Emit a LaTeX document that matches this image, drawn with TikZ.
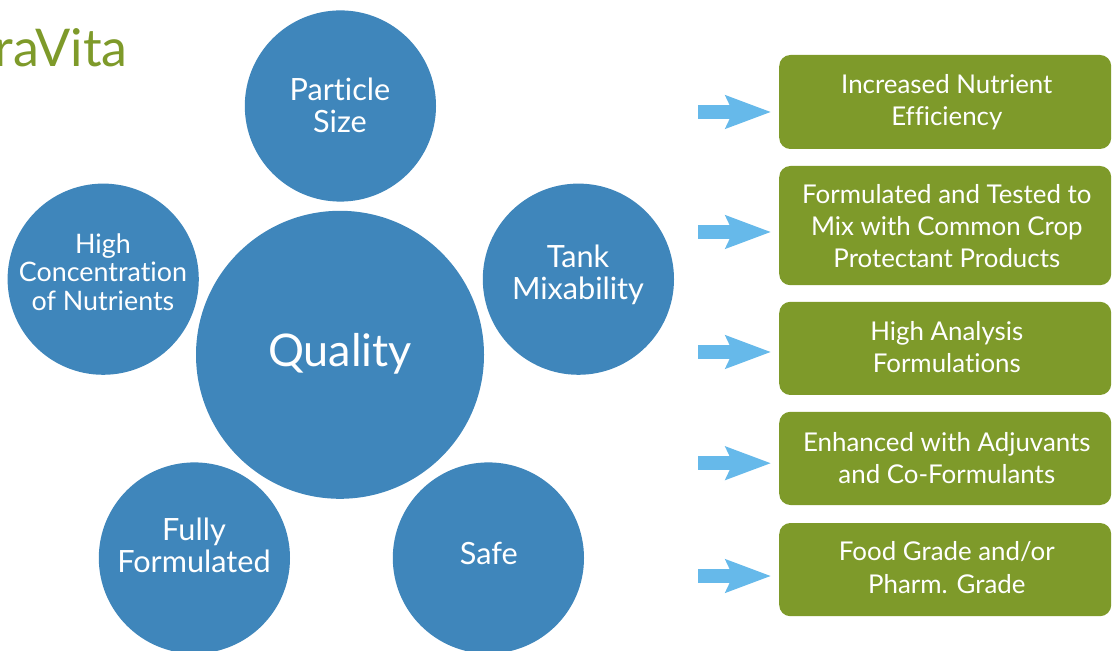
\documentclass[tikz,border=0pt]{standalone}
\usepackage{fontspec}
\setmainfont{Lato}[Ligatures=NoCommon]
\usetikzlibrary{arrows.meta}
\definecolor{bubbleblue}{HTML}{3F86BB}
\definecolor{boxgreen}{HTML}{7E9A2A}
\definecolor{arrowblue}{HTML}{66B9EA}
\tikzset{%
    bubble/.style={inner sep=0pt,outer sep=0pt,shape=circle,fill=bubbleblue,minimum size=4.78cm},
    bubble text/.style={inner sep=0pt,text=white,align=center,font=\fontsize{21.8}{22.8}\selectfont},
    benefit/.style={inner sep=0pt,outer sep=0pt,shape=rectangle,rounded corners=0.28cm,fill=boxgreen,minimum width=8.3cm},
    benefit text/.style={inner sep=0pt,text=white,align=center,font=\fontsize{18.4}{22.8}\selectfont},
    pointer/.style={-{Stealth[length=1.125cm,width=0.8cm,inset=0.17cm]},line width=0.35cm,arrowblue,shorten >=0.2cm},
}

\begin{document}
\begin{tikzpicture}
        \useasboundingbox (0,0) rectangle (27.95,16.25);

        \node [inner sep=0pt,text=boxgreen,anchor=east,font=\fontsize{37}{37}\selectfont] (brand) at (3.2,15.06) {raVita};

        \node [bubble,minimum size=7.2cm] (quality) at (8.5,7.38) {};
        \node [bubble] (particle) at (8.51,13.6) {};
        \node [bubble] (tank) at (14.46,9.27) {};
        \node [bubble] (safe) at (12.21,2.3) {};
        \node [bubble] (fully) at (4.86,2.3) {};
        \node [bubble] (high) at (2.58,9.27) {};
        \node [bubble text,font=\fontsize{32}{32}\selectfont] (qualitytext) at (8.5,7.4) {Quality};
        \node [bubble text] (particletext) at (8.5,13.62) {Particle\\Size};
        \node [bubble text] (tanktext) at (14.45,9.375) {Tank\\Mixability};
        \node [bubble text] (safetext) at (12.22,2.42) {Safe};
        \node [bubble text] (fullytext) at (4.85,2.61) {Fully\\Formulated};
        \node [bubble text,font=\fontsize{19.1}{20.6}\selectfont] (hightext) at (2.575,9.445) {High\\Concentration\\of Nutrients};

        \node [benefit,minimum height=2.35cm] (efficiency) at (23.63,13.7) {};
        \node [benefit,minimum height=2.98cm] (mix) at (23.63,10.61) {};
        \node [benefit,minimum height=2.33cm] (analysis) at (23.63,7.54) {};
        \node [benefit,minimum height=2.33cm] (adjuvants) at (23.63,4.79) {};
        \node [benefit,minimum height=2.33cm] (grade) at (23.63,2.01) {};
        \node [benefit text] (efficiencytext) at (23.67,13.695) {Increased Nutrient\\Efficiency};
        \node [benefit text] (mixtext) at (23.67,10.59) {Formulated and Tested to\\Mix with Common Crop\\Protectant Products};
        \node [benefit text] (analysistext) at (23.67,7.565) {High Analysis\\Formulations};
        \node [benefit text] (adjuvantstext) at (23.67,4.79) {Enhanced with Adjuvants\\and Co-Formulants};
        \node [benefit text] (gradetext) at (23.67,2.06) {Food Grade and/or\\Pharm. Grade};

        \coordinate (T1) at (17.45,13.45);
        \coordinate (T2) at (17.45,10.45);
        \coordinate (T3) at (17.45,7.45);
        \coordinate (T4) at (17.45,4.67);
        \coordinate (T5) at (17.45,1.85);
        \draw [pointer] (T1) -- (T1 -| efficiency.west);
        \draw [pointer] (T2) -- (T2 -| mix.west);
        \draw [pointer] (T3) -- (T3 -| analysis.west);
        \draw [pointer] (T4) -- (T4 -| adjuvants.west);
        \draw [pointer] (T5) -- (T5 -| grade.west);
\end{tikzpicture}
\end{document}
